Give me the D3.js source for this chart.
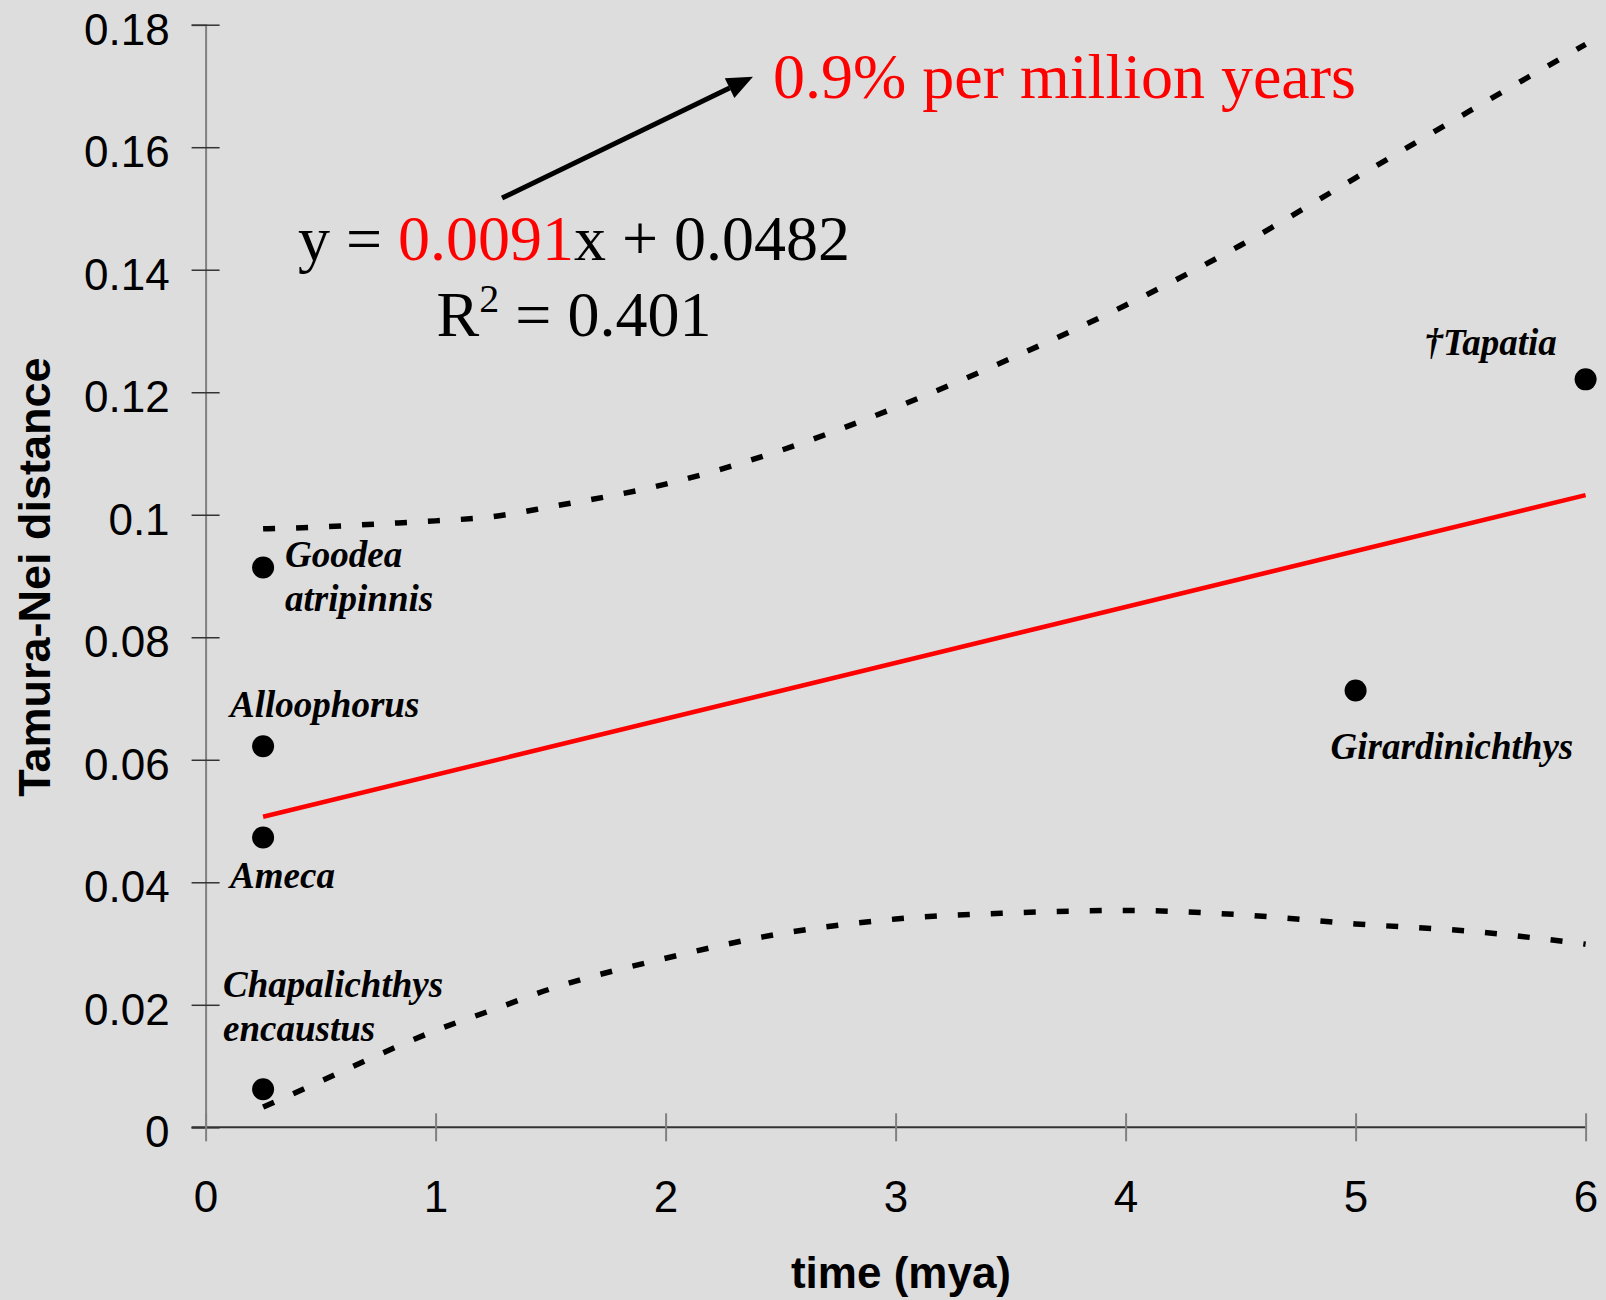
<!DOCTYPE html>
<html>
<head>
<meta charset="utf-8">
<script src="https://cdn.jsdelivr.net/npm/d3@7"></script>
<style>
  body { margin: 0; background: #dddddd; }
  svg { display: block; }
  .sans { font-family: "Liberation Sans", Arial, sans-serif; }
  .serif { font-family: "Liberation Serif", "Times New Roman", serif; }
</style>
</head>
<body>
<svg id="chart" width="1606" height="1300"></svg>
<script>
// species points
var species = ["Goodea atripinnis", "Alloophorus", "Ameca", "Chapalichthys encaustus", "Girardinichthys", "\u2020Tapatia"];
var timeMya = [0.25, 0.25, 0.25, 0.25, 5, 6];
var distance = [0.0914, 0.0622, 0.0473, 0.0062, 0.0713, 0.1221];

// linear fit
var trendX = [0.25, 6];
var trendY = [0.0507, 0.1032];

// confidence band (dashed)
var bandX = [0.25, 0.5, 0.75, 1, 1.25, 1.5, 2, 2.5, 3, 3.5, 4, 4.5, 5, 5.5, 6];
var bandUpper = [0.0977, 0.0980, 0.0985, 0.0990, 0.0997, 0.1013, 0.1050, 0.1105, 0.1175, 0.1255, 0.1342, 0.1440, 0.1550, 0.1660, 0.1768];
var bandLower = [0.0033, 0.0075, 0.0118, 0.0158, 0.0192, 0.0226, 0.0276, 0.0316, 0.0340, 0.0350, 0.0354, 0.0347, 0.0332, 0.0320, 0.0299];

// ticks
var xTicks = [0, 1, 2, 3, 4, 5, 6];
var yTicks = [0, 0.02, 0.04, 0.06, 0.08, 0.1, 0.12, 0.14, 0.16, 0.18];
var yTickLabels = ["0", "0.02", "0.04", "0.06", "0.08", "0.1", "0.12", "0.14", "0.16", "0.18"];

var svg = d3.select("#chart");

// scales
var x = d3.scaleLinear().domain([0, 6]).range([205.6, 1585.6]);
var y = d3.scaleLinear().domain([0, 0.18]).range([1127.3, 24.7]);

// y axis
var yAxis = svg.append("g")
    .attr("class", "sans")
    .attr("transform", "translate(" + x(0) + ",0)")
    .call(d3.axisLeft(y).tickValues(yTicks).tickSizeOuter(0).tickSize(14).tickPadding(22)
        .tickFormat(function(d, i) { return yTickLabels[i]; }));
yAxis.select(".domain").attr("stroke", "#808080").attr("stroke-width", 2);
yAxis.selectAll(".tick line").attr("x1", 14).attr("stroke", "#333").attr("stroke-width", 1.5);
yAxis.selectAll(".tick text").attr("dy", "0.44em").attr("font-size", 44).attr("fill", "#000");

// x axis
var xAxis = svg.append("g")
    .attr("class", "sans")
    .attr("transform", "translate(0," + y(0) + ")")
    .call(d3.axisBottom(x).tickValues(xTicks).tickSizeOuter(0).tickSize(14).tickPadding(39.5)
        .tickFormat(d3.format("d")));
xAxis.select(".domain").attr("stroke", "#333").attr("stroke-width", 2);
xAxis.selectAll(".tick line").attr("y1", -14).attr("stroke", "#808080").attr("stroke-width", 2);
xAxis.selectAll(".tick text").attr("font-size", 44).attr("fill", "#000");
// the x domain line reaches to the left end of the y tick at 0
xAxis.select(".domain").attr("d", "M" + (x(0) - 14) + ",0H" + x(6));

// axis titles
svg.append("text")
    .attr("class", "sans")
    .attr("transform", "translate(50,577) rotate(-90)")
    .attr("text-anchor", "middle")
    .attr("font-size", 45).attr("font-weight", "bold")
    .text("Tamura-Nei distance");

svg.append("text")
    .attr("class", "sans")
    .attr("x", 901).attr("y", 1288)
    .attr("text-anchor", "middle")
    .attr("font-size", 44).attr("font-weight", "bold")
    .text("time (mya)");

// dashed band curves
var band = d3.line()
    .x(function(d) { return x(d[0]); })
    .y(function(d) { return y(d[1]); })
    .curve(d3.curveMonotoneX);

[bandUpper, bandLower].forEach(function(vals) {
    svg.append("path")
        .datum(bandX.map(function(v, i) { return [v, vals[i]]; }))
        .attr("d", band)
        .attr("fill", "none")
        .attr("stroke", "#000")
        .attr("stroke-width", 5.5)
        .attr("stroke-dasharray", "12 21");
});

// trend line
svg.append("path")
    .datum(trendX.map(function(v, i) { return [v, trendY[i]]; }))
    .attr("d", d3.line().x(function(d) { return x(d[0]); }).y(function(d) { return y(d[1]); }))
    .attr("fill", "none")
    .attr("stroke", "#ff0000")
    .attr("stroke-width", 4.5);

// points
svg.selectAll(".pt")
    .data(timeMya)
    .enter().append("circle")
    .attr("class", "pt")
    .attr("cx", function(d) { return x(d); })
    .attr("cy", function(d, i) { return y(distance[i]); })
    .attr("r", 11)
    .attr("fill", "#000");

// species labels, offsets from each point in pixels
var labelOffsets = [[22, 0], [-33, -29], [-33, 50], [-40, -92], [-25, 68], [-161, -24]];
var labelLines = [["Goodea", "atripinnis"], ["Alloophorus"], ["Ameca"], ["Chapalichthys", "encaustus"], ["Girardinichthys"], ["\u2020Tapatia"]];

species.forEach(function(name, i) {
    var t = svg.append("text")
        .attr("class", "serif")
        .attr("font-size", 37)
        .attr("font-weight", "bold")
        .attr("font-style", "italic")
        .attr("x", x(timeMya[i]) + labelOffsets[i][0])
        .attr("y", y(distance[i]) + labelOffsets[i][1]);
    labelLines[i].forEach(function(line, j) {
        t.append("tspan")
            .attr("x", x(timeMya[i]) + labelOffsets[i][0])
            .attr("dy", j === 0 ? 0 : 44)
            .text(line);
    });
});

// equation
var eq = svg.append("text")
    .attr("class", "serif")
    .attr("x", 574).attr("y", 260)
    .attr("text-anchor", "middle")
    .attr("font-size", 64);
eq.append("tspan").text("y = ");
eq.append("tspan").attr("fill", "#ff0000").text("0.0091");
eq.append("tspan").text("x + 0.0482");

var r2 = svg.append("text")
    .attr("class", "serif")
    .attr("x", 574).attr("y", 336)
    .attr("text-anchor", "middle")
    .attr("font-size", 64);
r2.append("tspan").text("R");
r2.append("tspan").attr("font-size", 40).attr("dy", -24).text("2");
r2.append("tspan").attr("dy", 24).text(" = 0.401");

// arrow from the equation up to the rate note
var arrowFrom = [1.289, 0.1517];
var arrowTo = [2.38, 0.1715];
var ax0 = x(arrowFrom[0]), ay0 = y(arrowFrom[1]);
var ax1 = x(arrowTo[0]), ay1 = y(arrowTo[1]);
var ang = Math.atan2(ay1 - ay0, ax1 - ax0);
var headLen = 26, headHalf = 11;
var bx = ax1 - headLen * Math.cos(ang), by = ay1 - headLen * Math.sin(ang);
svg.append("line")
    .attr("x1", ax0).attr("y1", ay0)
    .attr("x2", bx).attr("y2", by)
    .attr("stroke", "#000").attr("stroke-width", 5);
svg.append("path")
    .attr("d", "M" + ax1 + "," + ay1 +
        "L" + (bx + headHalf * Math.sin(ang)) + "," + (by - headHalf * Math.cos(ang)) +
        "L" + (bx - headHalf * Math.sin(ang)) + "," + (by + headHalf * Math.cos(ang)) + "Z")
    .attr("fill", "#000");

svg.append("text")
    .attr("class", "serif")
    .attr("x", 773).attr("y", 98)
    .attr("font-size", 64)
    .attr("fill", "#ff0000")
    .text("0.9% per million years");
</script>
</body>
</html>
